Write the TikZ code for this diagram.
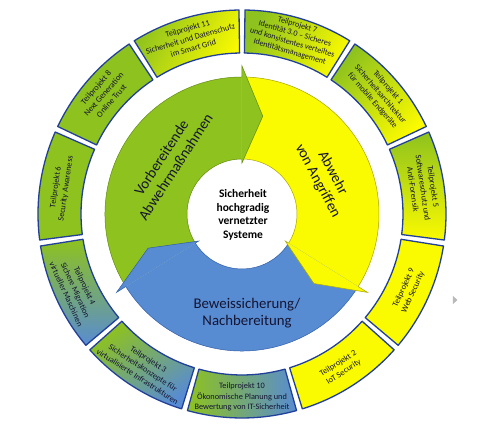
\documentclass[tikz,border=0pt]{standalone}
\usepackage{fontspec}
\setmainfont{Carlito}
\definecolor{cg}{RGB}{142,194,30}
\definecolor{cy}{RGB}{250,250,0}
\definecolor{cb}{RGB}{88,140,210}
\definecolor{bd}{RGB}{34,64,154}
\definecolor{txt}{RGB}{20,20,50}
\definecolor{gdk}{RGB}{100,140,20}
\definecolor{ydk}{RGB}{170,165,0}
\definecolor{bdk}{RGB}{50,95,170}
\tikzset{
  seg/.style={draw=bd, line width=1.3pt, line join=round},
  gy/.style={top color=cg, bottom color=cy, shading angle=#1},
  gb/.style={top color=cg, bottom color=cb, shading angle=#1},
  fy/.style={fill=cy},
  fg/.style={fill=cg},
  boxtxt/.style={font=\fontsize{8.3}{10.2}\selectfont, align=center, text=txt, inner sep=0pt},
  boxtxtf/.style={font=\fontsize{8.1}{9.3}\selectfont, align=center, text=txt, inner sep=0pt},
  bigtxt/.style={font=\fontsize{14.8}{17}\selectfont, align=center, text=txt, inner sep=0pt},
}
\newcommand\ringseg[2]{%
  \pgfmathsetmacro\aA{#1-16.3636+0.85}%
  \pgfmathsetmacro\aB{#1+16.3636-0.85}%
  \path[seg,#2] (\aA:161) -- (\aA:204) arc[start angle=\aA, end angle=\aB, radius=204]
    -- (\aB:161) arc[start angle=\aB, end angle=\aA, radius=161] -- cycle;}
\newcommand\arrowbody[4]{%
  \fill[#1] (#3:137) arc[start angle=#3, end angle=#4, radius=137]
    -- (#4:55) arc[start angle=#4, end angle=#3, radius=55] -- cycle;
  \draw[#2, line width=0.5pt] (#3:137) arc[start angle=#3, end angle=#4, radius=137];
  \draw[#2, line width=0.5pt] (#3:55) arc[start angle=#3, end angle=#4, radius=55];}
\newcommand\arrowtip[4]{%
  \path[fill=#1, draw=#2, line width=0.5pt, line join=miter]
    (#3:137) -- (#3:148) -- (#4:100) -- (#3:51) -- (#3:55);}
\begin{document}
\begin{tikzpicture}[x=1pt,y=1pt]
\fill[white] (-242,-213) rectangle (238,214);
\useasboundingbox (-242,-213) rectangle (238,214);
% outer ring segments
\ringseg{106.3636}{gy=60}
\ringseg{73.6364}{gy=60}
\ringseg{40.9091}{gy=45}
\ringseg{8.1818}{gy=0}
\ringseg{-24.5455}{fy}
\ringseg{-57.2727}{fy}
\ringseg{-90}{gb=90}
\ringseg{-122.7273}{gb=35}
\ringseg{-155.4545}{gb=0}
\ringseg{171.8182}{fg}
\ringseg{139.0909}{fg}
% inner cycle
\arrowbody{cg}{gdk}{212}{90}
\arrowbody{cy}{ydk}{90}{-32}
\arrowbody{cb}{bdk}{-32}{-148}
\arrowtip{cg}{gdk}{90}{78}
\arrowtip{cy}{ydk}{-32}{-44}
\arrowtip{cb}{bdk}{-148}{-160}
% texts
\node[bigtxt, rotate=57] (tv) at (145:90) {Vorbereitende\\Abwehrmaßnahmen};
\node[bigtxt, rotate=-62] (ta) at (24:91) {Abwehr\\von Angriffen};
\node[bigtxt] (tb) at (5,-99) {Beweissicherung/\\Nachbereitung};
\node[font=\bfseries\fontsize{11.5}{13.5}\selectfont, align=center, text=black, inner sep=0pt] (tc) at (1,-1) {Sicherheit\\hochgradig\\vernetzter\\Systeme};
\node[boxtxt, rotate=16.36] (b11) at (106.36:183) {Teilprojekt 11\\Sicherheit und Datenschutz\\im Smart Grid};
\node[boxtxtf, rotate=-16.36] (b7) at (73.64:183) {Teilprojekt 7\\Identität 3.0 – Sicheres\\und konsistentes verteiltes\\Identitätsmanagement};
\node[boxtxt, rotate=-49.09] (b1) at (40.91:183) {Teilprojekt 1\\Sicherheitsarchitektur\\für mobile Endgeräte};
\node[boxtxt, rotate=-81.82] (b5) at (8.18:183) {Teilprojekt 5\\Softwareschutz und\\Anti-Forensik};
\node[boxtxt, rotate=65.45] (b9) at (-24.55:183) {Teilprojekt 9\\Web Security};
\node[boxtxt, rotate=32.73] (b2) at (-57.27:183) {Teilprojekt 2\\IoT Security};
\node[boxtxt] (b10) at (-90:183) {Teilprojekt 10\\Ökonomische Planung und\\Bewertung von IT-Sicherheit};
\node[boxtxt, rotate=-32.73] (b3) at (-122.73:183) {Teilprojekt 3\\Sicherheitskonzepte für\\virtualisierte Infrastrukturen};
\node[boxtxt, rotate=-65.45] (b4) at (-155.45:183) {Teilprojekt 4\\Sichere Migration\\virtueller Maschinen};
\node[boxtxt, rotate=81.82] (b6) at (171.82:183) {Teilprojekt 6\\Security Awareness};
\node[boxtxt, rotate=49.09] (b8) at (139.09:183) {Teilprojekt 8\\Next Generation\\Online Trust};
% small grey marker
\fill[gray!55] (211,-82) -- (211,-90) -- (215.5,-86) -- cycle;
\end{tikzpicture}
\end{document}
